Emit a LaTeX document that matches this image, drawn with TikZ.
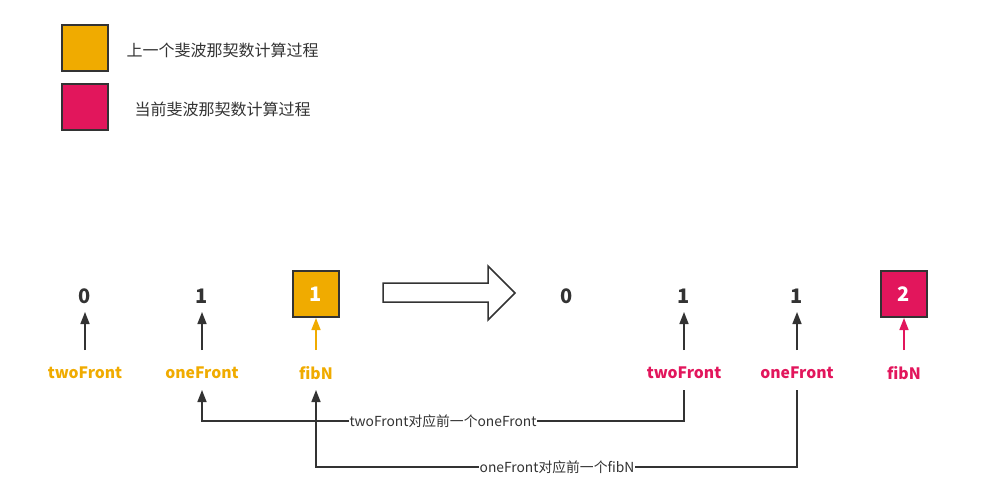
\documentclass[tikz,border=0pt]{standalone}
\usepackage{fontspec}
\setmainfont{Noto Sans CJK SC}
\usetikzlibrary{arrows.meta}
\definecolor{gold}{HTML}{F0AB00}
\definecolor{rose}{HTML}{E2165C}
\definecolor{ink}{HTML}{333333}
\begin{document}
\begin{tikzpicture}[x=1pt,y=-1pt,
  swatch/.style={draw=ink,line width=2pt,minimum width=46pt,minimum height=46pt,inner sep=0},
  legtext/.style={text=ink,font=\fontsize{16}{18}\selectfont,anchor=west},
  num/.style={text=ink,font=\bfseries\fontsize{20}{22}\selectfont},
  boxnum/.style={draw=ink,line width=2pt,minimum width=46pt,minimum height=46pt,inner sep=0,text=white,font=\bfseries\fontsize{20}{22}\selectfont},
  lab/.style={font=\bfseries\fontsize{15.7}{18}\selectfont,inner sep=1pt},
  up/.style={line width=1.5pt,-{Triangle[width=9pt,length=12pt]}},
  conn/.style={draw=ink,line width=1.5pt,-{Triangle[width=9pt,length=12pt]}},
  clabel/.style={fill=white,text=ink,font=\fontsize{13.8}{15}\selectfont,inner sep=0.5pt}
]
\useasboundingbox (0,0) rectangle (989,493);
% legend
\node[swatch,fill=gold] (s1) at (84.5,48) {};
\node[swatch,fill=rose] (s2) at (84.5,107) {};
\node[legtext] (t1) at (123,50) {上一个斐波那契数计算过程};
\node[legtext] (t2) at (131,109) {当前斐波那契数计算过程};
% left row
\node[num] (a0) at (85,296) {0};
\node[num] (a1) at (202,296) {1};
\node[boxnum,fill=gold] (a2) at (316,294) {1};
\node[lab,text=gold] (la0) at (85,373) {twoFront};
\node[lab,text=gold] (la1) at (202,373) {oneFront};
\node[lab,text=gold] (la2) at (316,373) {fibN};
\coordinate (pa0) at (85,350);
\coordinate (pa1) at (202,350);
\coordinate (pa2) at (316,350);
\coordinate (qa0) at (85,312);
\coordinate (qa1) at (202,312);
\draw[up,ink] (pa0) -- (qa0);
\draw[up,ink] (pa1) -- (qa1);
\draw[up,gold] (pa2) -- (a2.south);
% big arrow
\draw[ink,line width=1.5pt,fill=white] (383,283) -- (488,283) -- (488,266) -- (515,293) -- (488,320) -- (488,302) -- (383,302) -- cycle;
% right row
\node[num] (b0) at (567,296) {0};
\node[num] (b1) at (684,296) {1};
\node[num] (b2) at (797,296) {1};
\node[boxnum,fill=rose] (b3) at (904,294) {2};
\node[lab,text=rose] (lb1) at (684,373) {twoFront};
\node[lab,text=rose] (lb2) at (797,373) {oneFront};
\node[lab,text=rose] (lb3) at (904,373) {fibN};
\coordinate (pb1) at (684,350);
\coordinate (pb2) at (797,350);
\coordinate (pb3) at (904,350);
\coordinate (qb1) at (684,312);
\coordinate (qb2) at (797,312);
\draw[up,ink] (pb1) -- (qb1);
\draw[up,ink] (pb2) -- (qb2);
\draw[up,rose] (pb3) -- (b3.south);
% connectors
\coordinate (c1s) at (684,390);
\coordinate (c1e) at (202,390);
\coordinate (c2s) at (797,390);
\coordinate (c2e) at (316,390);
\draw[conn] (c1s) -- (684,421) -- (202,421) -- (c1e);
\draw[conn] (c2s) -- (797,467) -- (316,467) -- (c2e);
\node[clabel] (m1) at (443,421) {twoFront对应前一个oneFront};
\node[clabel] (m2) at (557,467) {oneFront对应前一个fibN};
\end{tikzpicture}
\end{document}
